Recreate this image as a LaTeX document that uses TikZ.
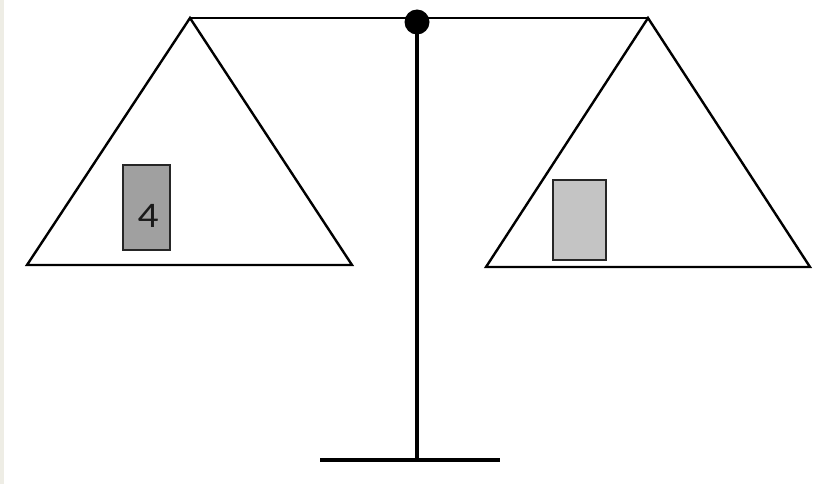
\documentclass[tikz,border=0pt]{standalone}
\usepackage{fontspec}
\setmainfont{Carlito}
\begin{document}
\begin{tikzpicture}[x=1pt,y=-1pt,
  pan/.style={draw=black,line width=2.4pt,line join=miter},
  weight/.style={draw=black!85,line width=1.8pt,anchor=north west,inner sep=0pt}]
\useasboundingbox (0,0) rectangle (813,484);
\fill[white] (0,0) rectangle (813,484);
\fill[color={rgb,255:red,238;green,237;blue,229}] (0,0) rectangle (3.5,484);
% beam
\coordinate (la) at (190,18);
\coordinate (ra) at (648,18);
\draw[line width=2.8pt] (la) -- (ra);
% left pan
\coordinate (lb1) at (27,265);
\coordinate (lb2) at (352,265);
\draw[pan] (la) -- (lb1) -- (lb2) -- cycle;
% right pan
\coordinate (rb1) at (486,267);
\coordinate (rb2) at (810,267);
\draw[pan] (ra) -- (rb1) -- (rb2) -- cycle;
% post
\coordinate (pv) at (417,22);
\coordinate (pb) at (417,460);
\coordinate (bl) at (320,460);
\coordinate (br) at (500,460);
\draw[line width=4.2pt] (pv) -- (pb);
\draw[line width=4.8pt] (bl) -- (br);
\fill (pv) circle (12.5);
% weights
\node[weight,fill={rgb,255:red,160;green,160;blue,160},minimum width=47pt,minimum height=85pt] (w1) at (122,164) {};
\node[inner sep=0pt,text=black!90,xscale=1.15] (n4) at (148,216) {\fontsize{36}{40}\selectfont 4};
\node[weight,fill={rgb,255:red,196;green,196;blue,196},minimum width=53pt,minimum height=80pt] (w2) at (552,179) {};
\end{tikzpicture}
\end{document}
